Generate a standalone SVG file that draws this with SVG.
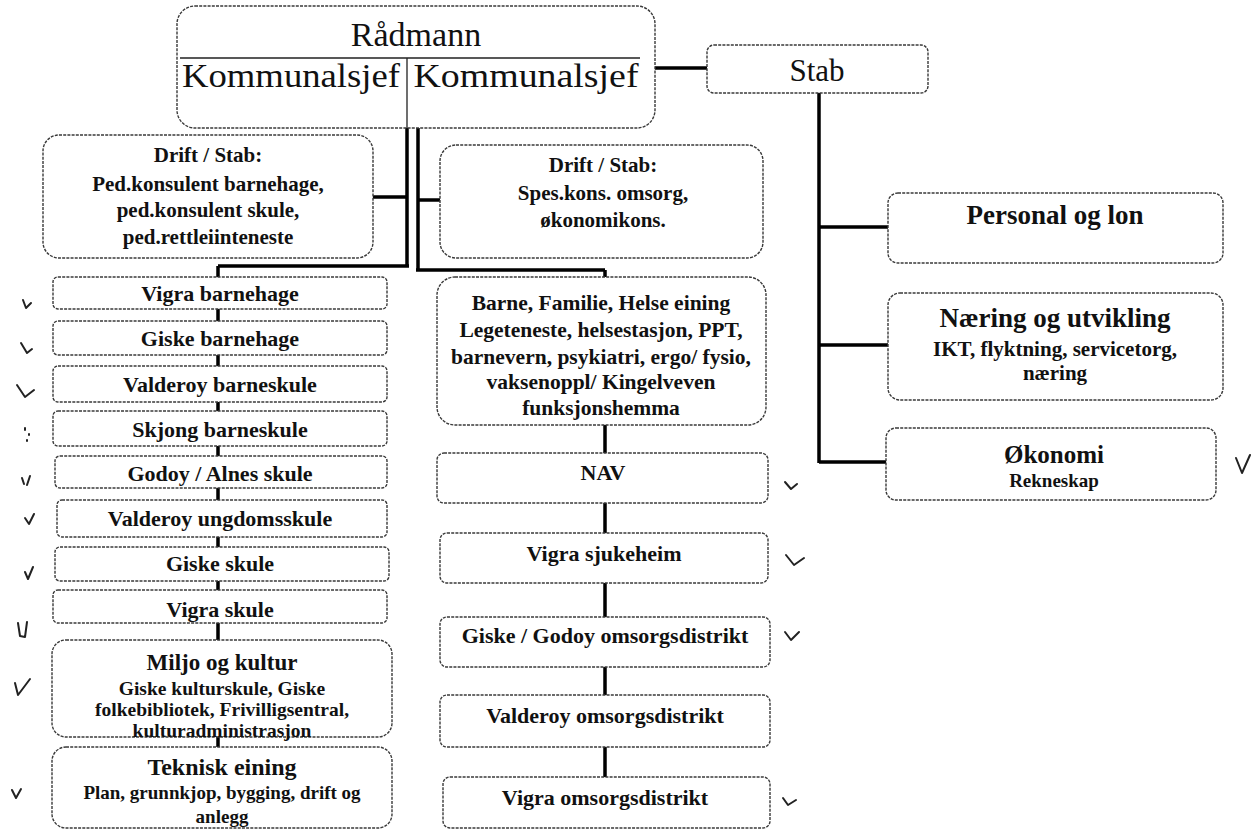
<svg xmlns="http://www.w3.org/2000/svg" width="1260" height="831" viewBox="0 0 1260 831">
<style>
.box{fill:#fff;stroke:#3a3a3a;stroke-width:1.4;stroke-dasharray:3 1.2}
.conn{stroke:#000;stroke-width:3.5;fill:none}
.thin{stroke:#222;stroke-width:1.3;fill:none}
.t{font-family:'Liberation Serif','Times New Roman',serif;text-anchor:middle;fill:#111}
.b{font-weight:bold}
.chk{stroke:#222;stroke-width:2;fill:none;stroke-linecap:round;stroke-linejoin:round}
</style>
<rect width="1260" height="831" fill="#fff"/>
<g id="connectors">
<path class="conn" d="M655 68H707"/>
<path class="conn" d="M819 93V463M819 227H888M819 345H888M819 462H887"/>
<path class="conn" d="M407 128V266M407 197H373M409 266H218M218 266V747"/>
<path class="conn" d="M418 128V270M418 200H440M416 270H605M605 270V777"/>
</g>
<g id="radmann">
<rect class="box" x="177" y="6" width="478" height="122" rx="18"/>
<text class="t" x="416" y="46" font-size="34">Rådmann</text>
<path class="thin" d="M180 58H640M407 58V128"/>
<text class="t" x="291" y="87" font-size="33" textLength="218" lengthAdjust="spacingAndGlyphs">Kommunalsjef</text>
<text class="t" x="526" y="87" font-size="33" textLength="225" lengthAdjust="spacingAndGlyphs">Kommunalsjef</text>
</g>
<g id="stab">
<rect class="box" x="707" y="45" width="221" height="48" rx="7"/>
<text class="t" x="817" y="81" font-size="31">Stab</text>
</g>
<g id="drift-left">
<rect class="box" x="43" y="135" width="330" height="123" rx="16"/>
<text class="t b" font-size="21"><tspan x="208" y="162">Drift / Stab:</tspan><tspan x="208" y="191">Ped.konsulent barnehage,</tspan><tspan x="208" y="217">ped.konsulent skule,</tspan><tspan x="208" y="244">ped.rettleiinteneste</tspan></text>
</g>
<g id="drift-right">
<rect class="box" x="440" y="145" width="323" height="113" rx="16"/>
<text class="t b" font-size="21"><tspan x="603" y="172">Drift / Stab:</tspan><tspan x="603" y="200">Spes.kons. omsorg,</tspan><tspan x="603" y="227">økonomikons.</tspan></text>
</g>
<g id="vigra-barnehage"><rect class="box" x="53" y="277" width="334" height="32" rx="5"/><text class="t b" x="220" y="301" font-size="22">Vigra barnehage</text></g>
<g id="giske-barnehage"><rect class="box" x="53" y="321" width="334" height="34" rx="5"/><text class="t b" x="220" y="346" font-size="22">Giske barnehage</text></g>
<g id="valderoy-barneskule"><rect class="box" x="53" y="366" width="334" height="36" rx="5"/><text class="t b" x="220" y="392" font-size="22">Valderoy barneskule</text></g>
<g id="skjong-barneskule"><rect class="box" x="53" y="411" width="334" height="35" rx="5"/><text class="t b" x="220" y="437" font-size="22">Skjong barneskule</text></g>
<g id="godoy-alnes-skule"><rect class="box" x="55" y="456" width="332" height="32" rx="5"/><text class="t b" x="220" y="481" font-size="22">Godoy / Alnes skule</text></g>
<g id="valderoy-ungdomsskule"><rect class="box" x="57" y="500" width="330" height="37" rx="5"/><text class="t b" x="220" y="526" font-size="22">Valderoy ungdomsskule</text></g>
<g id="giske-skule"><rect class="box" x="55" y="547" width="334" height="34" rx="5"/><text class="t b" x="220" y="571" font-size="22">Giske skule</text></g>
<g id="vigra-skule"><rect class="box" x="53" y="590" width="334" height="33" rx="5"/><text class="t b" x="220" y="617" font-size="22">Vigra skule</text></g>
<g id="miljo-kultur">
<rect class="box" x="52" y="640" width="340" height="97" rx="14"/>
<text class="t b" x="222" y="670" font-size="23">Miljo og kultur</text>
<text class="t b" font-size="19.5"><tspan x="222" y="695">Giske kulturskule, Giske</tspan><tspan x="222" y="716">folkebibliotek, Frivilligsentral,</tspan><tspan x="222" y="737">kulturadministrasjon</tspan></text>
</g>
<g id="teknisk-eining">
<rect class="box" x="52" y="747" width="340" height="81" rx="14"/>
<text class="t b" x="222" y="775" font-size="24">Teknisk eining</text>
<text class="t b" font-size="19"><tspan x="222" y="799">Plan, grunnkjop, bygging, drift og</tspan><tspan x="222" y="823">anlegg</tspan></text>
</g>
<g id="barne-familie-helse">
<rect class="box" x="437" y="277" width="329" height="148" rx="18"/>
<text class="t b" font-size="21.5"><tspan x="601" y="310">Barne, Familie, Helse eining</tspan><tspan x="601" y="337">Legeteneste, helsestasjon, PPT,</tspan><tspan x="601" y="364">barnevern, psykiatri, ergo/ fysio,</tspan><tspan x="601" y="389">vaksenoppl/ Kingelveven</tspan><tspan x="601" y="415">funksjonshemma</tspan></text>
</g>
<g id="nav"><rect class="box" x="437" y="453" width="331" height="50" rx="7"/><text class="t b" x="603" y="480" font-size="22">NAV</text></g>
<g id="vigra-sjukeheim"><rect class="box" x="440" y="533" width="328" height="50" rx="7"/><text class="t b" x="604" y="561" font-size="22">Vigra sjukeheim</text></g>
<g id="giske-godoy-omsorg"><rect class="box" x="440" y="617" width="330" height="50" rx="7"/><text class="t b" x="605" y="643" font-size="22">Giske / Godoy omsorgsdistrikt</text></g>
<g id="valderoy-omsorg"><rect class="box" x="440" y="695" width="330" height="52" rx="7"/><text class="t b" x="605" y="723" font-size="22">Valderoy omsorgsdistrikt</text></g>
<g id="vigra-omsorg"><rect class="box" x="443" y="777" width="327" height="51" rx="7"/><text class="t b" x="605" y="805" font-size="22">Vigra omsorgsdistrikt</text></g>
<g id="personal-lon"><rect class="box" x="888" y="193" width="335" height="70" rx="10"/><text class="t b" x="1055" y="224" font-size="27">Personal og lon</text></g>
<g id="naering-utvikling">
<rect class="box" x="888" y="293" width="335" height="107" rx="12"/>
<text class="t b" x="1055" y="327" font-size="27">Næring og utvikling</text>
<text class="t b" font-size="21"><tspan x="1055" y="356">IKT, flyktning, servicetorg,</tspan><tspan x="1055" y="380">næring</tspan></text>
</g>
<g id="okonomi">
<rect class="box" x="886" y="428" width="330" height="72" rx="10"/>
<text class="t b" x="1054" y="463" font-size="25">Økonomi</text>
<text class="t b" x="1054" y="487" font-size="19">Rekneskap</text>
</g>
<g id="checkmarks">
<path class="chk" d="M23 300l3 8 5-5"/>
<path class="chk" d="M21 343l6 10 5-4"/>
<path class="chk" d="M17 385l8 12 9-7"/>
<path class="chk" d="M25 428v2M29 434v1M27 440v1"/>
<path class="chk" d="M22 478l2 6M30 476l-3 9"/>
<path class="chk" d="M25 518l4 6 5-10"/>
<path class="chk" d="M25 572l3 7 5-12"/>
<path class="chk" d="M18 623l2 13 5 1 2-15"/>
<path class="chk" d="M15 683l3 12 12-16"/>
<path class="chk" d="M12 790l4 8 5-9"/>
<path class="chk" d="M785 482l6 7 6-5"/>
<path class="chk" d="M786 555l8 10 10-7"/>
<path class="chk" d="M785 632l6 8 8-8"/>
<path class="chk" d="M783 798l5 7 8-5"/>
<path class="chk" d="M1236 458l6 15 8-18"/>
</g>
</svg>
